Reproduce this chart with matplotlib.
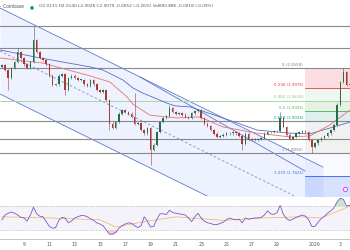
import matplotlib
matplotlib.use("Agg")
import matplotlib.pyplot as plt
import numpy as np

# 6h candles, x in days of December (Jan 1 = 32)
t0 = 7.25
step = 0.25
closes = [2.064, 2.050, 2.027, 2.056, 2.073, 2.102, 2.085, 2.067, 2.056, 2.073,
          2.137, 2.102, 2.085, 2.079, 2.067, 2.033, 2.007, 2.009, 2.033, 2.038,
          1.992, 2.027, 2.033, 2.027, 2.021, 2.021, 2.009, 2.004, 2.021, 2.009,
          1.992, 1.986, 1.992, 1.963, 1.894, 1.882, 1.899, 1.923, 1.934, 1.928,
          1.923, 1.914, 1.894, 1.896, 1.876, 1.867, 1.882, 1.818, 1.833, 1.870,
          1.899, 1.911, 1.917, 1.940, 1.928, 1.923, 1.925, 1.920, 1.914, 1.911,
          1.925, 1.931, 1.934, 1.911, 1.894, 1.888, 1.876, 1.865, 1.856, 1.859,
          1.862, 1.867, 1.867, 1.870, 1.867, 1.859, 1.836, 1.865, 1.847, 1.850,
          1.847, 1.850, 1.853, 1.865, 1.870, 1.870, 1.873, 1.873, 1.911, 1.885,
          1.862, 1.850, 1.856, 1.867, 1.870, 1.873, 1.870, 1.847, 1.827, 1.838,
          1.847, 1.853, 1.859, 1.867, 1.876, 1.891, 1.949, 2.015, 2.044, 2.007,
          2.009]
first_open = 2.060
hi_spikes = {5: 2.114, 10: 2.177, 42: 1.983, 53: 1.949, 88: 1.928, 108: 2.056}
lo_spikes = {2: 1.992, 20: 1.977, 34: 1.876, 47: 1.775, 76: 1.818, 98: 1.809}

ma_slow_x = [7.10, 10.26, 14.21, 15.24, 16.82, 17.61, 18.40, 20.30, 20.93, 22.12,
             24.73, 27.42, 30.02, 31.61, 33.19, 34.77]
ma_slow = [2.108, 2.085, 2.059, 2.050, 2.021, 1.998, 1.983, 1.954, 1.946, 1.943,
           1.911, 1.876, 1.867, 1.865, 1.882, 1.899]
ma_fast_x = [7.10, 10.50, 14.21, 15.80, 17.14, 17.61, 18.96, 21.09, 22.91, 24.73,
             27.42, 30.02, 31.61, 33.19, 34.77]
ma_fast = [2.085, 2.070, 2.033, 2.015, 1.972, 1.951, 1.919, 1.911, 1.914, 1.885,
           1.867, 1.856, 1.859, 1.891, 1.934]

rsi = [47, 55, 58, 60, 58, 55, 51, 50, 45, 55, 68, 57, 53, 52, 44, 36, 33, 34, 46, 51,
       50, 42, 45, 50, 52, 54, 54, 52, 49, 46, 42, 40, 37, 30, 23, 23, 26, 33, 37, 40,
       42, 41, 37, 34, 37, 52, 45, 35, 36, 48, 57, 57, 56, 63, 59, 58, 57, 56, 55, 50,
       44, 52, 58, 50, 45, 42, 41, 39, 39, 41, 43, 47, 50, 48, 47, 48, 42, 50, 48, 49,
       50, 50, 51, 55, 62, 57, 56, 59, 71, 56, 49, 46, 48, 51, 53, 55, 53, 47, 36, 36,
       43, 49, 53, 58, 62, 67, 77, 83, 81, 70, 71]
rsi_ma_idx = [0, 15, 31, 36, 44, 55, 70, 82, 95, 101, 107, 110]
rsi_ma = [52, 50, 47, 35, 43, 52, 46, 50, 52, 50, 63, 70]

fib_hi = 2.0558
fib_lo = 1.8092
fib_levels = [0, 0.236, 0.382, 0.5, 0.618, 1, 1.272, 1.618]
fib_colors = ['#787b86', '#f23645', '#81c784', '#4caf50', '#089981', '#787b86', '#2962ff', '#2962ff']
fib_fill_alpha = [0.16, 0.12, 0.14, 0.14, 0.10, 0.03, 0.18]
fib_start = 31.21

h_lines = [2.1775, 2.1138, 2.0558, 1.9034, 1.8500, 1.8092]

# channel (start day, start price, end day, end price)
chan_up = (7.10, 2.2297, 32.63, 1.7688)
chan_mid = (7.10, 2.1051, 32.63, 1.6442)
chan_lo = (7.10, 1.9804, 32.63, 1.5196)
trend2 = (18.17, 2.0297, 31.21, 1.7572)

tick_days = [9, 11, 13, 15, 17, 19, 21, 23, 25, 27, 29, 32, 34]
tick_labels = ['9', '11', '13', '15', '17', '19', '21', '23', '25', '27', '29', '2026', '3']

up_col = '#2a6b50'
dn_col = '#a63a36'
xmin, xmax = 7.1, 34.77

fig = plt.figure(figsize=(3.5, 2.5), dpi=100)
ax = fig.add_axes([0, 0.216, 1, 0.784])
ax2 = fig.add_axes([0, 0.044, 1, 0.168])

# channel fill + lines
cx = np.array([chan_up[0], chan_up[2]])
ax.fill_between(cx, [chan_lo[1], chan_lo[3]], [chan_up[1], chan_up[3]],
                color='#2962ff', alpha=0.08, lw=0, zorder=0)
for ln in (chan_up, chan_lo):
    ax.plot([ln[0], ln[2]], [ln[1], ln[3]], color='#5b7bd0', lw=0.6, zorder=1)
ax.plot([chan_mid[0], chan_mid[2]], [chan_mid[1], chan_mid[3]], color='#8090bb',
        lw=0.6, ls=(0, (3, 2.5)), zorder=1)
ax.plot([trend2[0], trend2[2]], [trend2[1], trend2[3]], color='#5b7bd0', lw=0.6, zorder=1)

# fib zones
rng = fib_hi - fib_lo
prices = [fib_hi - l * rng for l in fib_levels]
for k in range(len(fib_levels) - 1):
    ax.fill_between([fib_start, xmax + 1], prices[k + 1], prices[k],
                    color=fib_colors[k + 1], alpha=fib_fill_alpha[k], lw=0, zorder=0)
for lvl, p, c in zip(fib_levels[:-1], prices[:-1], fib_colors[:-1]):
    ax.plot([fib_start, xmax + 1], [p, p], color=c, lw=0.6, zorder=1)
    ax.text(fib_start - 0.15, p + 0.003, f'{lvl:g} ({p:.4f})', color=c,
            fontsize=2.9, ha='right', va='bottom', zorder=3)

for p in h_lines:
    ax.axhline(p, color='#8a8a8a', lw=0.8, zorder=1)
ax.axhline(prices[2], color='#a5d6a7', lw=0.7, zorder=1)

# moving averages
ax.plot(ma_slow_x, ma_slow, color='#5c6bc0', lw=0.6, zorder=2)
ax.plot(ma_fast_x, ma_fast, color='#e57373', lw=0.6, zorder=2)

# candles
n = len(closes)
xs = t0 + step * np.arange(n)
opens = [first_open] + closes[:-1]
for i in range(n):
    o, c = opens[i], closes[i]
    col = up_col if c >= o else dn_col
    hi = hi_spikes.get(i, max(o, c) + 0.004)
    lo = lo_spikes.get(i, min(o, c) - 0.004)
    ax.vlines(xs[i], lo, hi, color=col, lw=0.4, zorder=3)
    ax.bar(xs[i], max(abs(c - o), 0.0015), bottom=min(o, c), width=0.12,
           color=col, lw=0, zorder=4)

ax.plot([34.37], [1.7065], marker='o', ms=3, mfc='white', mec='#d946ef', mew=0.7, zorder=5)

ax.set_xlim(xmin, xmax)
ax.set_ylim(1.6848, 2.2529)
ax.axis('off')

# header
fig.text(0.0, 0.975, '· Coinbase', fontsize=3.3, color='#555555', va='center')
fig.text(0.086, 0.975, '●', fontsize=3.3, color='#089981', va='center')
fig.text(0.111, 0.975, 'O2.0131 H2.0140 L2.0028 C2.0079 -0.0052 (-0.26%) '
         'Vol890.88K -0.0018 (-0.09%)', fontsize=3.1, color='#555555', va='center')

# RSI
rx = xs
ax2.fill_between([xmin, xmax], 30, 70, color='#7e57c2', alpha=0.07, lw=0)
for lv in (30, 70):
    ax2.axhline(lv, color='#9e9e9e', lw=0.5, ls=(0, (1, 1.5)))
r = np.array(rsi, dtype=float)
ax2.fill_between(rx, 70, r, where=r > 70, interpolate=True, color='#4caf50', alpha=0.3, lw=0)
ax2.fill_between(rx, 30, r, where=r < 30, interpolate=True, color='#ef5350', alpha=0.3, lw=0)
ax2.plot(rx[np.array(rsi_ma_idx)], rsi_ma, color='#f0b35a', lw=0.5)
ax2.plot(rx, r, color='#7e57c2', lw=0.6)
ax2.set_xlim(xmin, xmax)
ax2.set_ylim(15, 85)
for s in ('top', 'left', 'right'):
    ax2.spines[s].set_visible(False)
ax2.spines['bottom'].set_color('#bbbbbb')
ax2.spines['bottom'].set_linewidth(0.6)
ax2.set_yticks([])
ax2.set_xticks(tick_days)
ax2.set_xticklabels(tick_labels, fontsize=3.3, color='#555555')
ax2.tick_params(axis='x', length=0, pad=2)

fig.savefig('out.png', dpi=100)
